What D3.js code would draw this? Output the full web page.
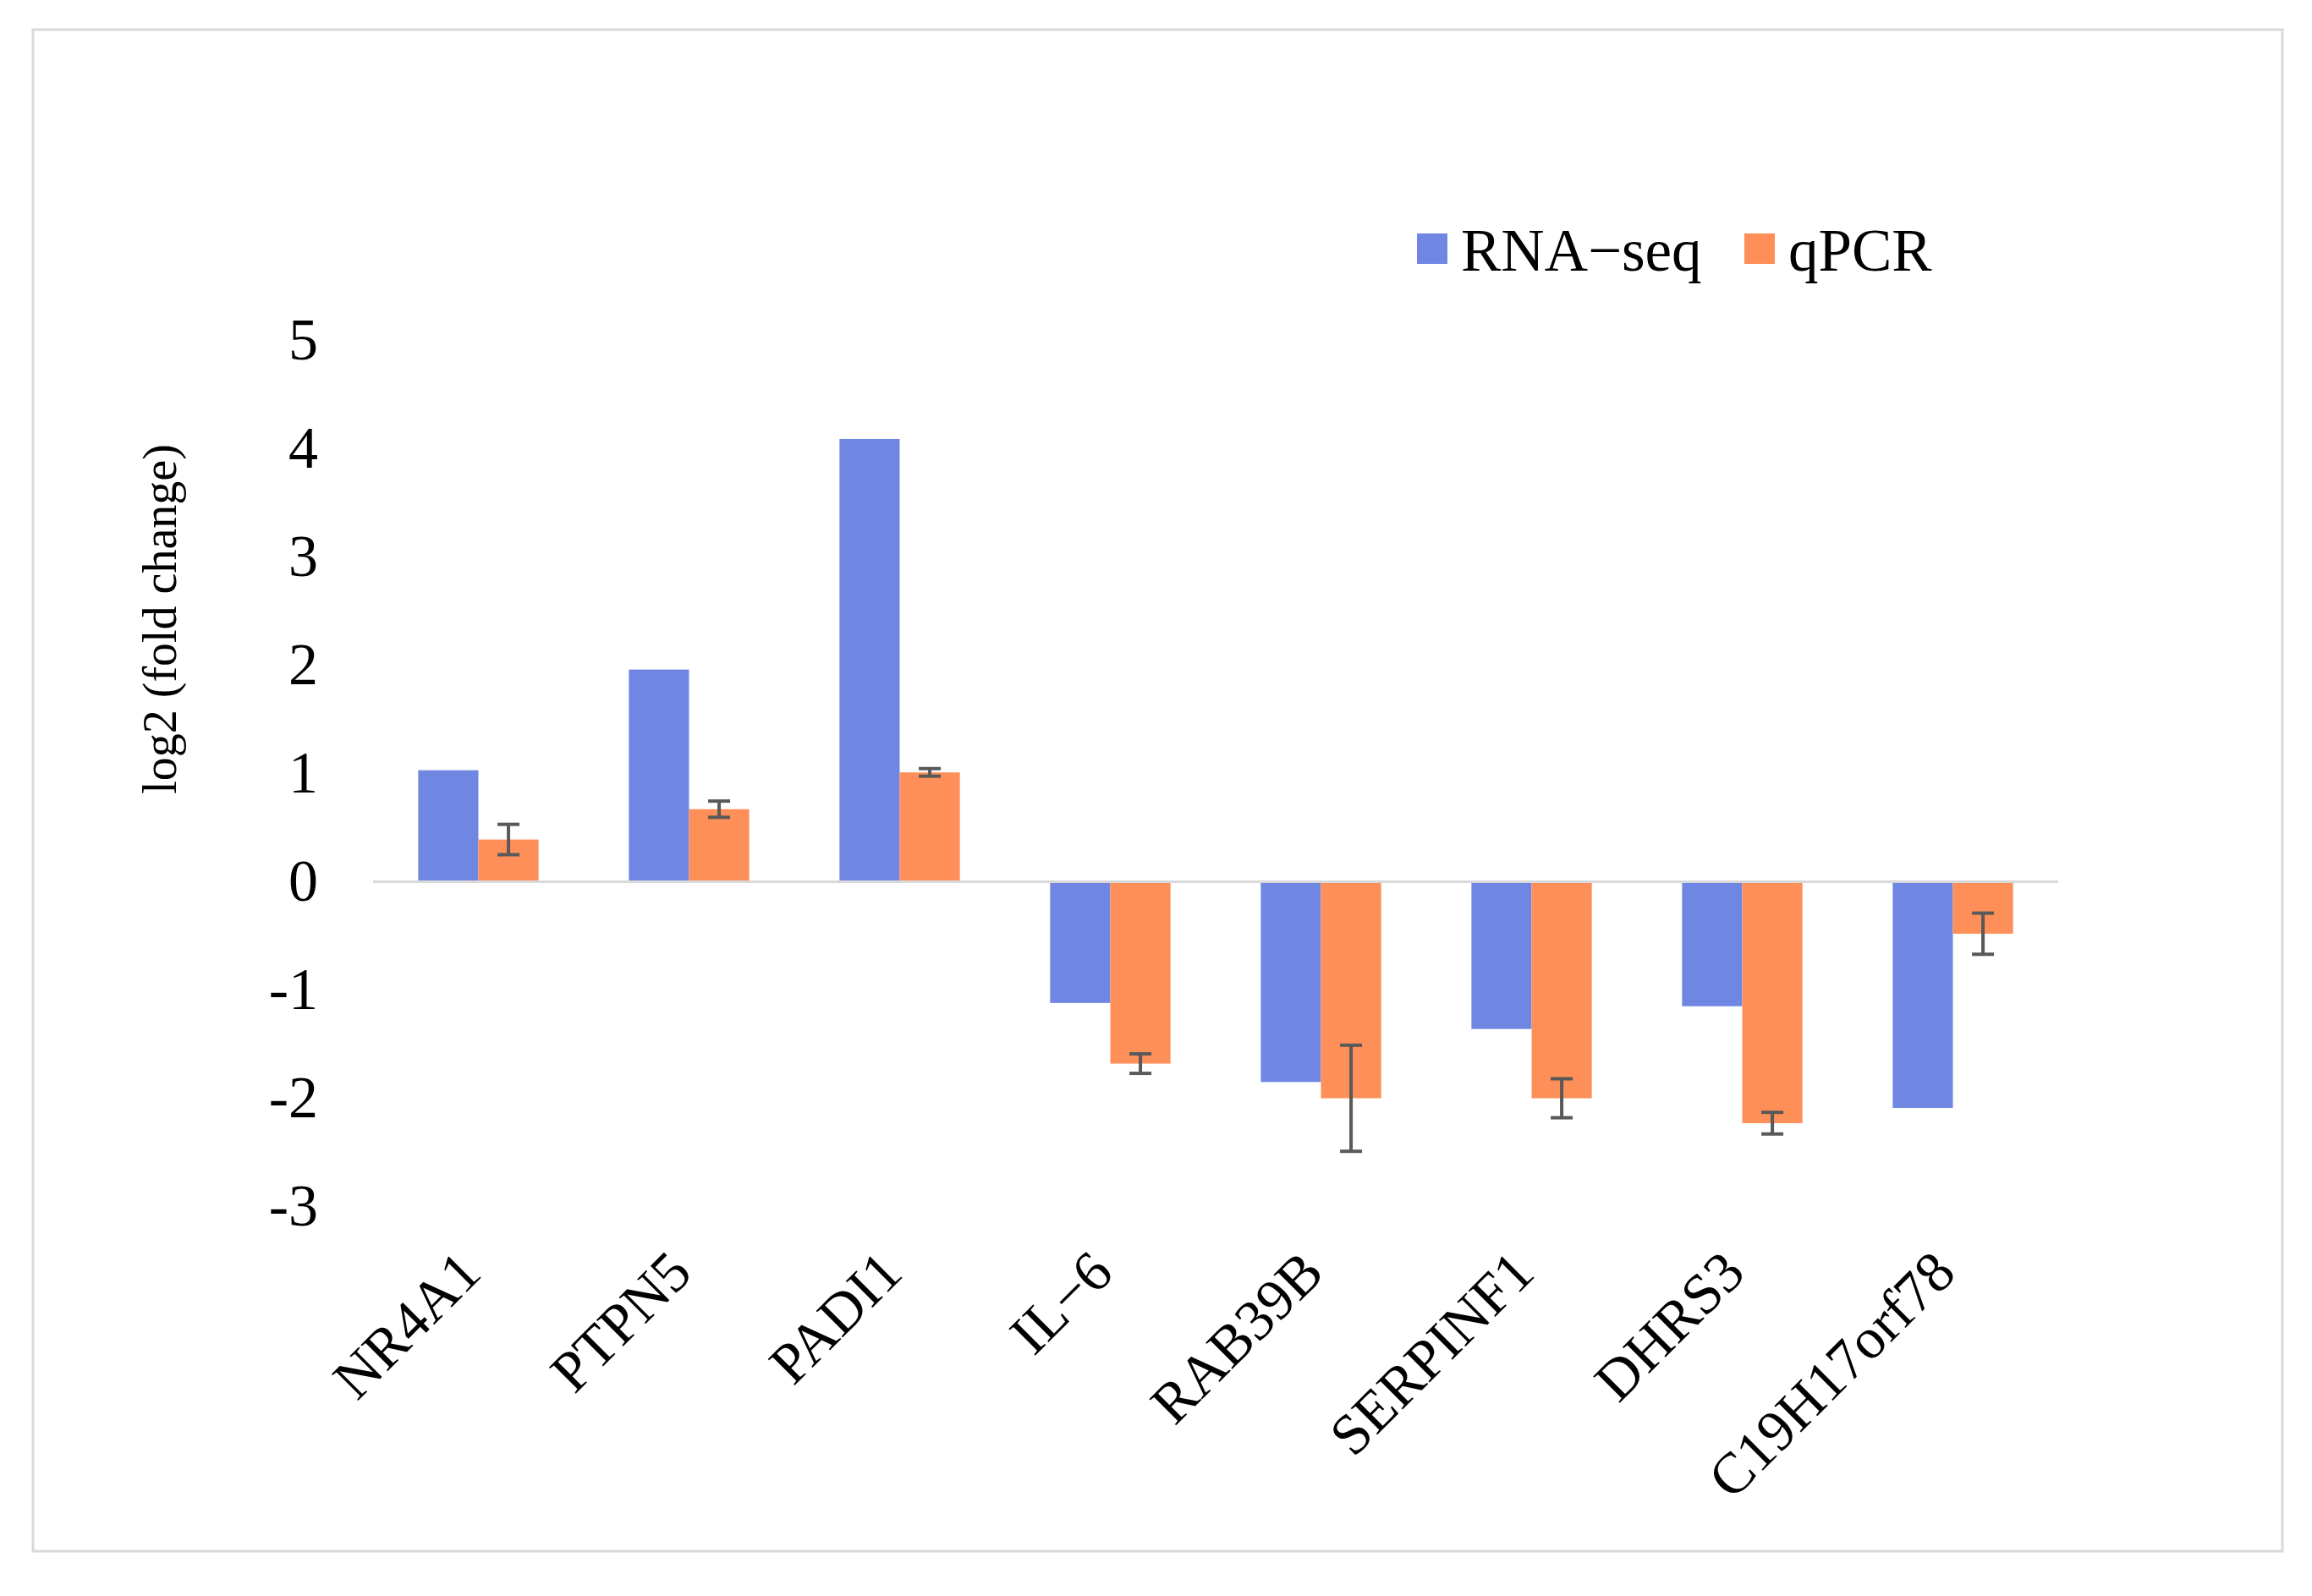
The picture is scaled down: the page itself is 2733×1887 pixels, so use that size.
<!DOCTYPE html>
<html>
<head>
<meta charset="utf-8">
<script src="https://cdn.jsdelivr.net/npm/d3@7"></script>
<style>
  body { margin: 0; background: #fff; }
  text { font-family: 'Liberation Serif', 'Times New Roman', serif; fill: #000; }
</style>
</head>
<body>
<script>
var genes = ['NR4A1', 'PTPN5', 'PADI1', 'IL\u22126', 'RAB39B', 'SERPINF1', 'DHRS3', 'C19H17orf78']
var series = ['RNA\u2212seq', 'qPCR']
var rnaSeq = [1.03, 1.96, 4.09, -1.12, -1.85, -1.36, -1.15, -2.09]
var qpcr = [0.39, 0.67, 1.01, -1.68, -2.0, -2.0, -2.23, -0.48]
var qpcrErr = [0.14, 0.075, 0.035, 0.09, 0.49, 0.18, 0.1, 0.19]
var yTicks = [-3, -2, -1, 0, 1, 2, 3, 4, 5]

var colors = ['#6f87e3', '#ff8f59']

var w = 2733
var h = 1887

var svg = d3.select('body')
            .append('svg')
            .attr('width', w)
            .attr('height', h)

// outer frame
svg.append('rect')
    .attr('x', 39)
    .attr('y', 35)
    .attr('width', 2659)
    .attr('height', 1799)
    .style('fill', 'none')
    .style('stroke', '#d9d9d9')
    .style('stroke-width', 3)

var x0 = d3.scaleBand()
        .domain(genes)
        .range([441, 2433])

var x1 = d3.scaleBand()
        .domain(series)
        .range([0, x0.bandwidth()])
        .paddingOuter(0.75)

var y = d3.scaleLinear()
        .domain([-3, 5])
        .range([1426.5, 402.5])

var rows = genes.map(function (g, i) {
  return {gene: g, values: [rnaSeq[i], qpcr[i]], err: qpcrErr[i]}
})

// y axis labels only
var yAxis = d3.axisLeft(y)
              .tickValues(yTicks)
              .tickSize(0)
              .tickPadding(0)
              .tickFormat(function (d) { return String(d) })

svg.append('g')
    .attr('transform', 'translate(376,0)')
    .call(yAxis)
    .call(function (g) { g.select('.domain').remove() })
    .selectAll('text')
      .style('font-size', '70px')
      .style('font-family', "'Liberation Serif', serif")

// BARS
var groups = svg.selectAll('.group')
    .data(rows)
    .enter()
      .append('g')
      .attr('transform', function (d) { return 'translate(' + x0(d.gene) + ',0)' })

groups.selectAll('rect')
    .data(function (d) { return d.values.map(function (v, j) { return {s: series[j], v: v, j: j} }) })
    .enter()
      .append('rect')
      .attr('x', function (d) { return x1(d.s) })
      .attr('width', x1.bandwidth())
      .attr('y', function (d) { return y(Math.max(0, d.v)) })
      .attr('height', function (d) { return Math.abs(y(d.v) - y(0)) })
      .style('fill', function (d) { return colors[d.j] })

// zero line
svg.append('line')
    .attr('x1', x0.range()[0])
    .attr('x2', x0.range()[1])
    .attr('y1', y(0))
    .attr('y2', y(0))
    .style('stroke', '#d9d9d9')
    .style('stroke-width', 3)

// ERROR BARS on qPCR
var cap = 13
var eb = groups.append('g')
    .attr('transform', function (d) { return 'translate(' + (x1('qPCR') + x1.bandwidth() / 2) + ',0)' })
    .style('stroke', '#595959')
    .style('stroke-width', 4)

eb.append('line')
    .attr('y1', function (d) { return y(d.values[1] + d.err) })
    .attr('y2', function (d) { return y(d.values[1] - d.err) })
eb.append('line')
    .attr('x1', -cap).attr('x2', cap)
    .attr('y1', function (d) { return y(d.values[1] + d.err) })
    .attr('y2', function (d) { return y(d.values[1] + d.err) })
eb.append('line')
    .attr('x1', -cap).attr('x2', cap)
    .attr('y1', function (d) { return y(d.values[1] - d.err) })
    .attr('y2', function (d) { return y(d.values[1] - d.err) })

// category labels
svg.selectAll('.cat-label')
    .data(genes)
    .enter()
      .append('text')
      .classed('cat-label', true)
      .attr('text-anchor', 'end')
      .attr('transform', function (d) {
        return 'translate(' + (x0(d) + x0.bandwidth() / 2 + 6) + ',1508) rotate(-45)'
      })
      .style('font-size', '68px')
      .text(function (d) { return d })

// y title
svg.append('text')
    .attr('text-anchor', 'middle')
    .attr('transform', 'translate(208,732) rotate(-90)')
    .style('font-size', '56px')
    .text('log2 (fold change)')

// LEGEND
var legendX = [1675, 2062]
var legend = svg.selectAll('.legend')
    .data(series)
    .enter()
      .append('g')
      .attr('transform', function (d, i) { return 'translate(' + legendX[i] + ',276)' })

legend.append('rect')
    .attr('width', 36)
    .attr('height', 36)
    .style('fill', function (d, i) { return colors[i] })

legend.append('text')
    .attr('x', 52)
    .attr('y', 44)
    .style('font-size', '71px')
    .text(function (d) { return d })
</script>
</body>
</html>
